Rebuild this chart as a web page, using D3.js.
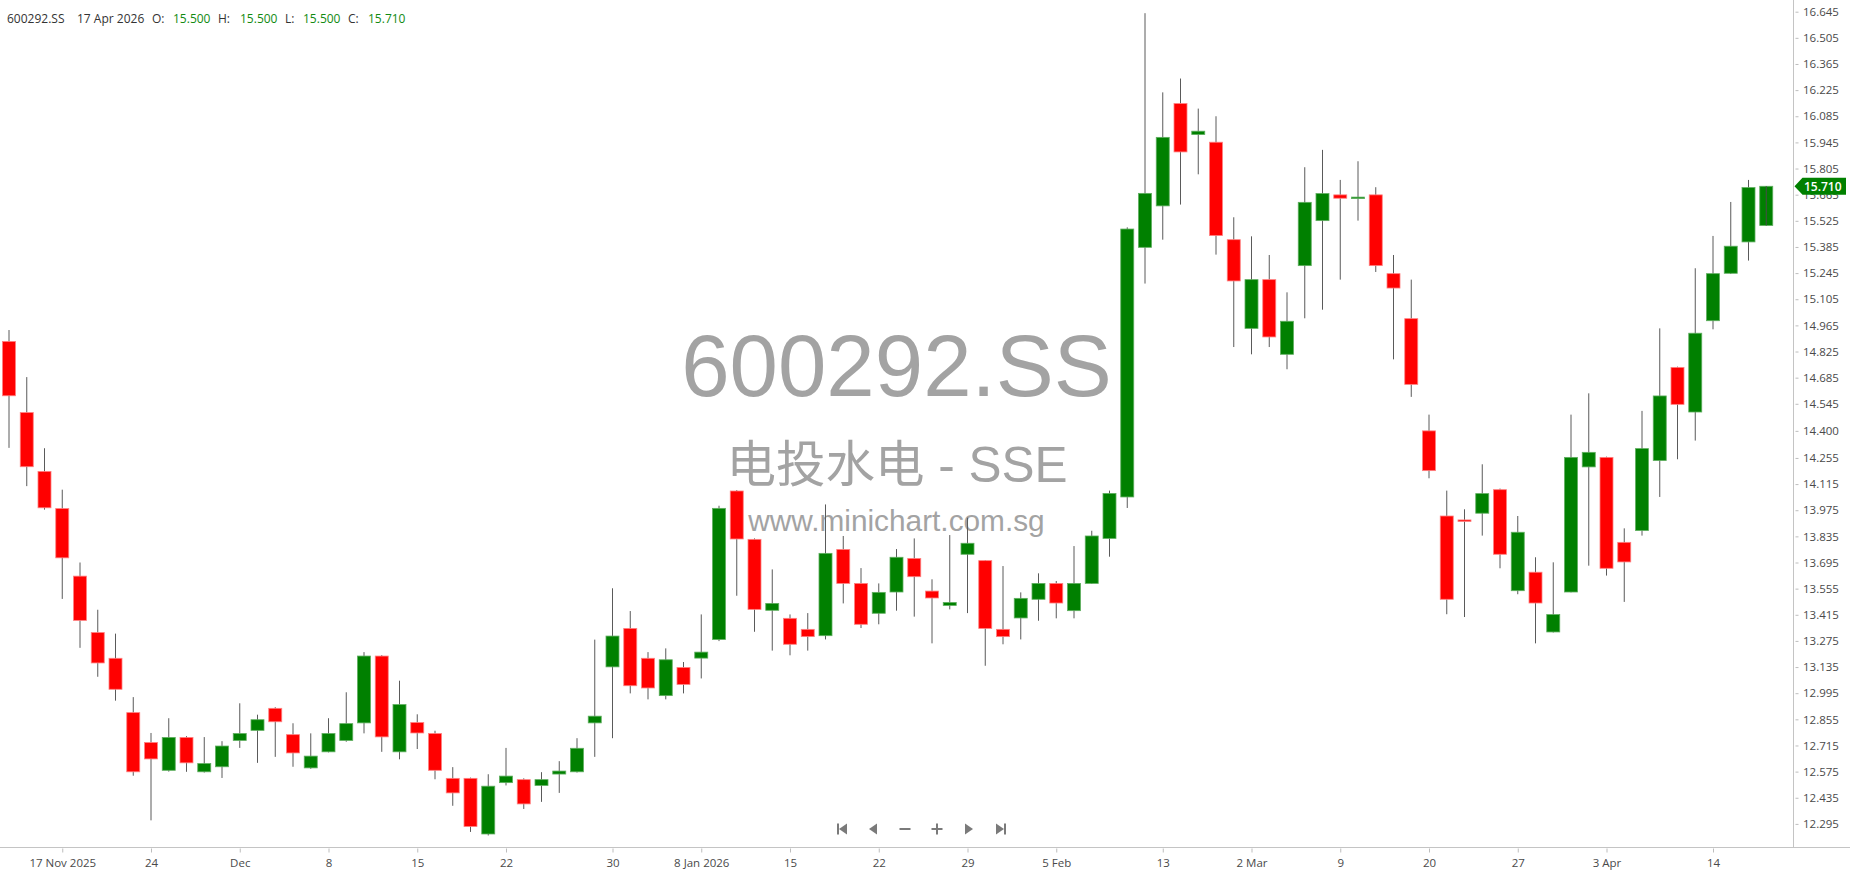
<!DOCTYPE html>
<html><head><meta charset="utf-8">
<script src="https://cdn.jsdelivr.net/npm/d3@7/dist/d3.min.js"></script>
<style>
html,body{margin:0;padding:0;background:#fff;overflow:hidden;}
svg{display:block;}
</style></head><body>
<svg id="chart" width="1850" height="874"></svg>
<script>
// ---------------- data ----------------
const dates = [
"2025-11-12","2025-11-13","2025-11-14","2025-11-17","2025-11-18","2025-11-19","2025-11-20","2025-11-21",
"2025-11-24","2025-11-25","2025-11-26","2025-11-27","2025-11-28","2025-12-01","2025-12-02","2025-12-03",
"2025-12-04","2025-12-05","2025-12-08","2025-12-09","2025-12-10","2025-12-11","2025-12-12","2025-12-15",
"2025-12-16","2025-12-17","2025-12-18","2025-12-19","2025-12-22","2025-12-23","2025-12-24","2025-12-25",
"2025-12-26","2025-12-29","2025-12-30","2025-12-31","2026-01-05","2026-01-06","2026-01-07","2026-01-08",
"2026-01-09","2026-01-12","2026-01-13","2026-01-14","2026-01-15","2026-01-16","2026-01-19","2026-01-20",
"2026-01-21","2026-01-22","2026-01-23","2026-01-26","2026-01-27","2026-01-28","2026-01-29","2026-01-30",
"2026-02-02","2026-02-03","2026-02-04","2026-02-05","2026-02-06","2026-02-09","2026-02-10","2026-02-11",
"2026-02-12","2026-02-13","2026-02-24","2026-02-25","2026-02-26","2026-02-27","2026-03-02","2026-03-03",
"2026-03-04","2026-03-05","2026-03-06","2026-03-09","2026-03-10","2026-03-11","2026-03-12","2026-03-13",
"2026-03-20","2026-03-23","2026-03-24","2026-03-25","2026-03-26","2026-03-27","2026-03-30","2026-03-31",
"2026-04-01","2026-04-02","2026-04-03","2026-04-07","2026-04-08","2026-04-09","2026-04-10","2026-04-13",
"2026-04-14","2026-04-15","2026-04-16","2026-04-17"];

const open = [
14.879,14.498,14.183,13.984,13.622,13.320,13.182,12.891,12.731,12.582,
12.758,12.574,12.601,12.742,12.796,12.914,12.773,12.595,12.681,12.742,
12.836,13.194,12.681,12.838,12.779,12.539,12.539,12.241,12.516,12.532,
12.501,12.562,12.574,12.836,13.136,13.342,13.182,12.982,13.133,13.183,
13.283,14.078,13.819,13.439,13.396,13.337,13.303,13.765,13.583,13.423,
13.537,13.717,13.542,13.465,13.739,13.705,13.337,13.398,13.498,13.583,
13.437,13.583,13.824,14.046,15.383,15.605,16.153,15.987,15.946,15.424,
14.949,15.210,14.810,15.285,15.526,15.664,15.650,15.664,15.242,15.001,
14.400,13.944,13.923,13.959,14.085,13.544,13.643,13.323,13.537,14.207,
14.258,13.803,13.866,14.241,14.740,14.501,14.990,15.244,15.412,15.500];

const high = [
14.940,14.688,14.307,14.085,13.695,13.442,13.314,12.974,12.782,12.861,
12.765,12.760,12.738,12.941,12.880,12.920,12.834,12.780,12.861,13.000,
13.215,13.199,13.062,12.882,12.794,12.599,12.543,12.561,12.702,12.539,
12.572,12.631,12.754,13.282,13.557,13.435,13.215,13.235,13.162,13.417,
13.999,14.083,13.824,13.658,13.417,13.424,14.006,13.837,13.665,13.583,
13.767,13.824,13.605,13.842,13.935,13.708,13.676,13.535,13.637,13.596,
13.783,13.865,14.080,15.490,16.637,16.213,16.287,16.126,16.085,15.544,
15.442,15.342,15.142,15.812,15.905,15.744,15.844,15.705,15.342,15.210,
14.487,14.080,13.980,14.221,14.091,13.944,13.723,13.696,14.487,14.601,
14.262,13.878,14.507,14.949,14.744,15.271,15.444,15.626,15.744,15.710];

const low = [
14.309,14.104,13.978,13.500,13.238,13.083,12.955,12.553,12.314,12.575,
12.574,12.570,12.541,12.702,12.622,12.654,12.601,12.590,12.678,12.735,
12.780,12.681,12.641,12.696,12.534,12.392,12.252,12.233,12.501,12.375,
12.413,12.461,12.570,12.654,12.754,12.994,12.962,12.962,12.994,13.074,
13.274,13.517,13.324,13.223,13.198,13.223,13.283,13.476,13.344,13.364,
13.437,13.405,13.262,13.444,13.424,13.142,13.257,13.283,13.383,13.396,
13.396,13.580,13.726,13.987,15.189,15.424,15.612,15.774,15.344,14.849,
14.810,14.849,14.730,15.003,15.049,15.210,15.526,15.251,14.783,14.582,
14.146,13.418,13.403,13.839,13.664,13.525,13.262,13.320,13.535,13.678,
13.625,13.484,13.839,14.046,14.248,14.348,14.944,15.240,15.312,15.500];

const close = [
14.588,14.208,13.988,13.720,13.385,13.157,13.016,12.574,12.643,12.758,
12.622,12.618,12.712,12.779,12.853,12.842,12.675,12.658,12.779,12.832,
13.194,12.761,12.934,12.782,12.582,12.461,12.281,12.497,12.551,12.402,
12.532,12.578,12.700,12.872,13.301,13.035,13.023,13.174,13.042,13.215,
13.985,13.821,13.444,13.476,13.257,13.298,13.744,13.583,13.364,13.535,
13.723,13.619,13.505,13.481,13.798,13.342,13.298,13.503,13.583,13.478,
13.583,13.837,14.065,15.481,15.672,15.972,15.894,16.005,15.446,15.203,
15.210,14.903,14.987,15.624,15.671,15.646,15.652,15.285,15.165,14.649,
14.187,13.498,13.918,14.064,13.739,13.857,13.478,13.416,14.258,14.285,
13.664,13.698,14.305,14.587,14.542,14.923,15.242,15.389,15.703,15.710];

const xTickDates  = ["2025-11-17","2025-11-24","2025-12-01","2025-12-08","2025-12-15","2025-12-22","2025-12-30",
                     "2026-01-08","2026-01-15","2026-01-22","2026-01-29","2026-02-05","2026-02-13","2026-03-02",
                     "2026-03-09","2026-03-20","2026-03-27","2026-04-03","2026-04-14"];
const xTickLabels = ["17 Nov 2025","24","Dec","8","15","22","30","8 Jan 2026","15","22","29","5 Feb","13",
                     "2 Mar","9","20","27","3 Apr","14"];
const yTickLabels = ["16.645","16.505","16.365","16.225","16.085","15.945","15.805","15.665","15.525","15.385",
                     "15.245","15.105","14.965","14.825","14.685","14.545","14.400","14.255","14.115","13.975",
                     "13.835","13.695","13.555","13.415","13.275","13.135","12.995","12.855","12.715","12.575",
                     "12.435","12.295"];
const symbol = "600292.SS";
const stockName = "电投水电 - SSE";
const site = "www.minichart.com.sg";
const headerDate = "17 Apr 2026";
const headerLabels = ["O:","H:","L:","C:"];
const headerValues = ["15.500","15.500","15.500","15.710"];

// ---------------- drawing ----------------
const W = 1850, H = 874;
const axisX = 1793.5, axisY = 847.5;
const UP = "#008000", DOWN = "#ff0000";
const UP_EDGE = "#5fae5f", DOWN_EDGE = "#ff8080";
const uiFont = "'Open Sans','Noto Sans',sans-serif";

const svg = d3.select("#chart");
const x = d3.scalePoint().domain(dates).range([9, 9 + 17.75 * (dates.length - 1)]);
const yVals = yTickLabels.map(Number);
const y = d3.scaleLinear().domain([d3.min(yVals), d3.max(yVals)]).range([823.9, 11.7]);

// watermark
const wm = svg.append("g").attr("fill", "#a3a3a3").attr("text-anchor", "middle")
  .style("font-family", "'Liberation Sans','Noto Sans CJK SC',sans-serif");
wm.append("text").attr("x", 896.5).attr("y", 396).style("font-size", "87px").text(symbol);
wm.append("text").attr("x", 897).attr("y", 482).style("font-size", "49.5px").text(stockName);
wm.append("text").attr("x", 896.5).attr("y", 531).style("font-size", "29.8px").text(site);

// candles
const data = dates.map((d, i) => ({d, o: open[i], h: high[i], l: low[i], c: close[i], i}));
const bw = 13;
const cg = svg.append("g");
cg.selectAll("line.wick").data(data).join("line").attr("class", "wick")
  .attr("x1", d => x(d.d)).attr("x2", d => x(d.d))
  .attr("y1", d => y(d.h)).attr("y2", d => y(d.l))
  .attr("stroke", "#5a5a5a").attr("stroke-width", 1);
cg.selectAll("rect.body").data(data).join("rect").attr("class", "body")
  .attr("x", d => x(d.d) - bw / 2)
  .attr("width", bw)
  .attr("y", d => y(Math.max(d.o, d.c)))
  .attr("height", d => Math.max(1.5, Math.abs(y(d.o) - y(d.c))))
  .attr("fill", d => d.c >= d.o ? UP : DOWN)
  .attr("stroke", d => d.c >= d.o ? UP_EDGE : DOWN_EDGE)
  .attr("stroke-width", 0.8);
// current (last) bar wick drawn on top
const last = data[data.length - 1];
cg.append("line").attr("x1", x(last.d)).attr("x2", x(last.d))
  .attr("y1", y(last.h)).attr("y2", y(last.l)).attr("stroke", "#4a4a4a").attr("stroke-width", 1);

// axis lines
svg.append("line").attr("x1", axisX).attr("x2", axisX).attr("y1", 0).attr("y2", axisY)
  .attr("stroke", "#c4c4c4").attr("stroke-width", 1);
svg.append("line").attr("x1", 0).attr("x2", W).attr("y1", axisY).attr("y2", axisY)
  .attr("stroke", "#c4c4c4").attr("stroke-width", 1);

// y axis
const yAxis = d3.axisRight(y).tickValues(yVals).tickFormat((d, i) => yTickLabels[i]).tickSize(5).tickPadding(4.5);
const yg = svg.append("g").attr("transform", `translate(${axisX},0)`).call(yAxis);
yg.select(".domain").remove();
yg.selectAll(".tick line").attr("x1", 2).attr("stroke", "#bdbdbd");
yg.selectAll(".tick text").attr("fill", "#4a4a4a").style("font-family", uiFont).style("font-size", "11.5px");

// x axis
const xAxis = d3.axisBottom(x).tickValues(xTickDates).tickFormat((d, i) => xTickLabels[i]).tickSize(5).tickPadding(6);
const xg = svg.append("g").attr("transform", `translate(0,${axisY})`).call(xAxis);
xg.select(".domain").remove();
xg.selectAll(".tick line").attr("y1", 1).attr("stroke", "#bdbdbd");
xg.selectAll(".tick text").attr("fill", "#4a4a4a").style("font-family", uiFont).style("font-size", "11.5px");

// last price badge (drawn over the axis label it sits on, as in the reference)
const lp = close[close.length - 1];
const by = y(lp);
svg.append("path")
  .attr("d", `M${axisX + 1},${by} L${axisX + 9},${by - 8.5} H1846 V${by + 8.5} H${axisX + 9} Z`)
  .attr("fill", UP);
svg.append("text").attr("x", 1804).attr("y", by + 4.3).attr("fill", "#fff")
  .style("font-family", uiFont).style("font-size", "12px").style("font-weight", "600")
  .text(lp.toFixed(3));

// header
const hg = svg.append("g").style("font-family", uiFont).style("font-size", "12px");
hg.append("text").attr("x", 7).attr("y", 23).attr("fill", "#333").text(symbol);
hg.append("text").attr("x", 77).attr("y", 23).attr("fill", "#333").text(headerDate);
const labX = [152, 218, 285, 348], valX = [173, 240, 303, 368];
headerLabels.forEach((t, i) => {
  hg.append("text").attr("x", labX[i]).attr("y", 23).attr("fill", "#333").text(t);
  hg.append("text").attr("x", valX[i]).attr("y", 23).attr("fill", "#128a12").text(headerValues[i]);
});

// navigation icons
const nav = svg.append("g").attr("fill", "#7a7a7a").attr("stroke", "none");
const ny = 829;
const navX = [842, 873, 905, 937, 969, 1001];
nav.append("rect").attr("x", navX[0] - 5).attr("y", ny - 5.5).attr("width", 2).attr("height", 11);
nav.append("path").attr("d", `M${navX[0] - 3},${ny} L${navX[0] + 5},${ny - 5.5} V${ny + 5.5} Z`);
nav.append("path").attr("d", `M${navX[1] - 4},${ny} L${navX[1] + 4},${ny - 5.5} V${ny + 5.5} Z`);
nav.append("rect").attr("x", navX[2] - 5.5).attr("y", ny - 1).attr("width", 11).attr("height", 2);
nav.append("rect").attr("x", navX[3] - 5.5).attr("y", ny - 1).attr("width", 11).attr("height", 2);
nav.append("rect").attr("x", navX[3] - 1).attr("y", ny - 5.5).attr("width", 2).attr("height", 11);
nav.append("path").attr("d", `M${navX[4] + 4},${ny} L${navX[4] - 4},${ny - 5.5} V${ny + 5.5} Z`);
nav.append("path").attr("d", `M${navX[5] + 3},${ny} L${navX[5] - 5},${ny - 5.5} V${ny + 5.5} Z`);
nav.append("rect").attr("x", navX[5] + 3).attr("y", ny - 5.5).attr("width", 2).attr("height", 11);
</script>
</body></html>
